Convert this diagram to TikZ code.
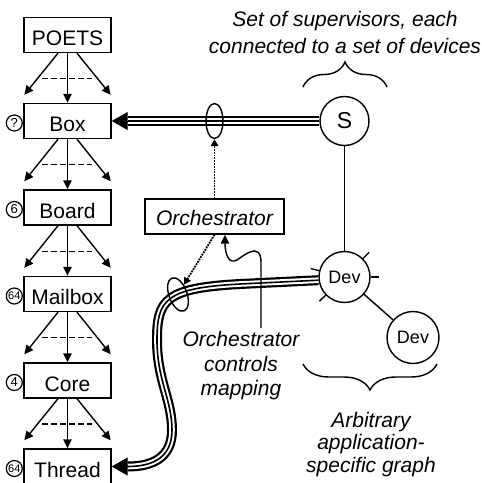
\documentclass[tikz,border=0pt]{standalone}
\usepackage{fontspec}
\setmainfont{Liberation Sans}
\usetikzlibrary{arrows.meta,shapes.geometric,decorations.pathreplacing,calc}

\begin{document}
\begin{tikzpicture}[x=1pt,y=-1pt,line width=1.4pt,
  level/.style={draw, rectangle, minimum width=87pt, minimum height=35pt, inner sep=0pt,
    text height=21pt, text depth=0pt, font=\fontsize{21}{25}\selectfont},
  count/.style={draw, circle, line width=1.2pt, minimum size=16pt, inner sep=0pt,
    font=\fontsize{13}{13}\selectfont},
  smallcount/.style={count, font=\fontsize{11}{11}\selectfont},
  treearrow/.style={-{Triangle[length=9pt,width=8.5pt]}},
  alt/.style={dash pattern=on 5.5pt off 3.5pt},
  vertex/.style={draw, circle, inner sep=0pt, fill=white},
  cable/.style={draw, line width=10pt,
    postaction={draw=white, line width=5.6pt},
    postaction={draw=black, line width=1.6pt}},
  cabletip/.style={line width=1pt, -{Triangle[length=16pt,width=18pt]}},
  ring/.style={draw, ellipse, inner sep=0pt},
  ctrl/.style={densely dotted, line width=1.8pt, -{Triangle[length=7pt,width=7.5pt]}},
  caption/.style={align=center, inner sep=0pt}
]
\useasboundingbox (0,0) rectangle (482,483);

% hierarchy of hardware levels
\node[level] (poets)   at (67.5,35)    {POETS};
\node[level] (box)     at (67.5,121)   {Box};
\node[level] (board)   at (67.5,207.5) {Board};
\node[level] (mailbox) at (67.5,294)   {Mailbox};
\node[level] (core)    at (67.5,380.5) {Core};
\node[level] (thread)  at (67.5,466.5) {Thread};

\foreach \a/\b in {poets/box, box/board, board/mailbox, mailbox/core, core/thread} {
  \draw[treearrow] ($(\a.south)+(-9.5,0)$) -- ($(\b.north west)+(1,-8)$);
  \draw[treearrow] (\a.south) -- (\b.north);
  \draw[treearrow] ($(\a.south)+(9.5,0)$) -- ($(\b.north east)+(-1,-8)$);
  \draw[alt] ($(\a.south)!0.5!(\b.north)+(-25.5,0.5)$) -- ++(50,0);
}

% multiplicities
\node[count]      (nbox)    at ($(box.west)+(-9,2)$)     {?};
\node[count]      (nboard)  at ($(board.west)+(-9,2)$)   {6};
\node[smallcount] (nmail)   at ($(mailbox.west)+(-9,2)$) {64};
\node[count]      (ncore)   at ($(core.west)+(-9,2)$)    {4};
\node[smallcount] (nthread) at ($(thread.west)+(-9,2)$)  {64};

% supervisor and application graph
\node[vertex, minimum size=49pt, font=\fontsize{23}{23}\selectfont] (s) at (344.5,121) {S};
\node[vertex, minimum size=51pt, font=\fontsize{18}{18}\selectfont] (dev1) at (344.5,277) {Dev};
\node[vertex, minimum size=52pt, font=\fontsize{18}{18}\selectfont] (dev2) at (413,337.5) {Dev};
\draw (s) -- (dev1);
\draw (dev1) -- (dev2);
\foreach \ang in {45,0,166,224}
  \draw (dev1.\ang) -- ($(dev1.center)!1.33!(dev1.\ang)$);

% links from the supervisor and the device down to the hardware
\coordinate (boxarr) at ($(box.east)+(16,0)$);
\coordinate (threadarr) at ($(thread.east)+(16,0)$);
\draw[cable] (s.west) -- (boxarr);
\draw[cabletip] (boxarr) -- (box.east);
\draw[cable] (dev1.187) -- (240,284)
  .. controls (165,288) and (157,300) .. (157,340)
  .. controls (157,380) and (172,400) .. (172,430)
  .. controls (172,458) and (152,466.5) .. (threadarr);
\draw[cabletip] (threadarr) -- (thread.east);

\node[ring, minimum width=17pt, minimum height=35pt] (ring1) at (214.5,121) {};
\node[ring, minimum width=18pt, minimum height=35pt, rotate=20] (ring2) at (178,294.5) {};

% orchestrator
\node[draw, minimum width=139pt, minimum height=35pt, inner sep=0pt,
  text height=17pt, text depth=0pt, font=\fontsize{21}{25}\selectfont\itshape]
  (orch) at (214.5,216.5) {Orchestrator};
\draw[ctrl] (orch.north) -- (ring1.south);
\draw[ctrl] (orch.south) -- (ring2);

\node[caption, anchor=north, font=\fontsize{21}{24.5}\selectfont\itshape]
  (ctl) at (241,331) {Orchestrator\\controls\\mapping};
\coordinate (wv) at (261,328);
\draw[treearrow] (wv) -- (261,262)
  .. controls (261,252) and (256,249) .. (250,252)
  .. controls (240,256) and (236,264) .. (230,260)
  .. controls (226,257) and (225,248) .. (orch.south -| 225,0);

% captions and braces
\node[caption, anchor=north, font=\fontsize{21}{27}\selectfont\itshape]
  (sup) at (345,10.5) {Set of supervisors, each\\connected to a set of devices};
\draw[decorate, decoration={brace, amplitude=25pt}] (303,87) -- (387,87);

\draw[decorate, decoration={brace, amplitude=26pt}] (437,364) -- (303,364);
\node[caption, anchor=north, font=\fontsize{21}{22.5}\selectfont\itshape]
  (arb) at (371,411.5) {Arbitrary\\application-\\specific graph};
\end{tikzpicture}
\end{document}
